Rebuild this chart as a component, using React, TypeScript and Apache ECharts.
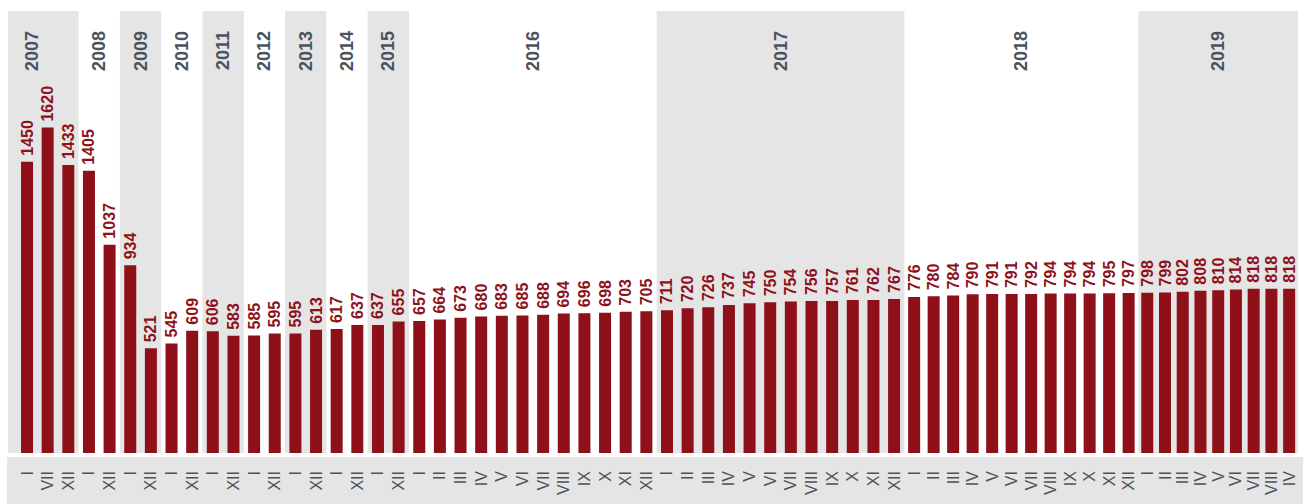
import React, { useEffect, useRef } from 'react';
import * as echarts from 'echarts';

// ---- data ----
const years = ['2007', '2008', '2009', '2010', '2011', '2012', '2013', '2014', '2015', '2016', '2017', '2018', '2019'];

const periods2007 = ['I', 'VII', 'XII'];
const periodsHalf = ['I', 'XII'];
const periodsFull = ['I', 'II', 'III', 'IV', 'V', 'VI', 'VII', 'VIII', 'IX', 'X', 'XI', 'XII'];
const periods2019 = ['I', 'II', 'III', 'IV', 'V', 'VI', 'VII', 'VIII', 'IV'];

const values2007 = [1450, 1620, 1433];
const values2008 = [1405, 1037];
const values2009 = [934, 521];
const values2010 = [545, 609];
const values2011 = [606, 583];
const values2012 = [585, 595];
const values2013 = [595, 613];
const values2014 = [617, 637];
const values2015 = [637, 655];
const values2016 = [657, 664, 673, 680, 683, 685, 688, 694, 696, 698, 703, 705];
const values2017 = [711, 720, 726, 737, 745, 750, 754, 756, 757, 761, 762, 767];
const values2018 = [776, 780, 784, 790, 791, 791, 792, 794, 794, 794, 795, 797];
const values2019 = [798, 799, 802, 808, 810, 814, 818, 818, 818];

const periodsByYear = [
  periods2007, periodsHalf, periodsHalf, periodsHalf, periodsHalf, periodsHalf,
  periodsHalf, periodsHalf, periodsHalf, periodsFull, periodsFull, periodsFull, periods2019,
];
const valuesByYear = [
  values2007, values2008, values2009, values2010, values2011, values2012, values2013,
  values2014, values2015, values2016, values2017, values2018, values2019,
];

// ---- layout / style ----
const BAR = '#8e1119';
const BAND = '#e5e5e5';
const TEXT = '#4a545e';
const FONT = 'Liberation Sans';
const Y_MAX = 2200;
const PLOT_LEFT = 8;
const GRID_TOP = 11;
const GRID_HEIGHT = 442;

const groups = [
  { years: [0, 1, 2, 3, 4, 5, 6, 7, 8, 9, 10], left: 16.7, width: 887.7 },
  { years: [11], left: 904.4, width: 234 },
  { years: [12], left: 1138.4, width: 159.6 },
];

export default function App() {
  const ref = useRef<HTMLDivElement>(null);

  useEffect(() => {
    if (!ref.current) return;
    const chart = echarts.init(ref.current, null, { renderer: 'svg' });

    const grids: any[] = [];
    const xAxes: any[] = [];
    const yAxes: any[] = [];
    const series: any[] = [];

    groups.forEach((g, gi) => {
      const cats: string[] = [];
      const vals: number[] = [];
      g.years.forEach((yi) => {
        cats.push(...periodsByYear[yi]);
        vals.push(...valuesByYear[yi]);
      });
      grids.push({ left: g.left, width: g.width, top: GRID_TOP, height: GRID_HEIGHT, containLabel: false });
      xAxes.push({
        type: 'category',
        gridIndex: gi,
        data: cats,
        boundaryGap: true,
        axisLine: { show: false },
        axisTick: { show: false },
        axisLabel: {
          interval: 0,
          rotate: 90,
          margin: 18,
          color: TEXT,
          fontSize: 16,
          fontFamily: FONT,
        },
      });
      yAxes.push({ type: 'value', gridIndex: gi, min: 0, max: Y_MAX, show: false, splitLine: { show: false } });
      series.push({
        type: 'bar',
        xAxisIndex: gi,
        yAxisIndex: gi,
        data: vals,
        barWidth: 12,
        itemStyle: { color: BAR },
        label: {
          show: true,
          position: 'top',
          rotate: 90,
          align: 'left',
          verticalAlign: 'middle',
          distance: 6,
          color: BAR,
          fontSize: 16,
          fontWeight: 'bold',
          fontFamily: FONT,
        },
      });
    });

    chart.setOption({
      animation: false,
      textStyle: { fontFamily: FONT },
      grid: grids,
      xAxis: xAxes,
      yAxis: yAxes,
      series,
    });

    const top = chart.convertToPixel({ yAxisIndex: 0 }, Y_MAX) as number;
    const bottom = chart.convertToPixel({ yAxisIndex: 0 }, 0) as number;
    const graphics: any[] = [
      { type: 'rect', z: -10, shape: { x: 7, y: bottom + 4, width: 1296, height: 504 - bottom - 4 }, style: { fill: BAND } },
    ];
    groups.forEach((g, gi) => {
      const c0 = chart.convertToPixel({ xAxisIndex: gi }, 0) as number;
      const c1 = chart.convertToPixel({ xAxisIndex: gi }, 1) as number;
      const slot = c1 - c0;
      let offset = 0;
      g.years.forEach((yi) => {
        const n = valuesByYear[yi].length;
        let x0 = (chart.convertToPixel({ xAxisIndex: gi }, offset) as number) - slot / 2;
        const x1 = (chart.convertToPixel({ xAxisIndex: gi }, offset + n - 1) as number) + slot / 2;
        offset += n;
        if (yi === 0) x0 = PLOT_LEFT;
        if (yi % 2 === 0) {
          graphics.push({ type: 'rect', z: -10, shape: { x: x0, y: top, width: x1 - x0, height: bottom - top }, style: { fill: BAND } });
        }
        const cx = yi === 0 ? x0 + (x1 - x0) / 3 : (x0 + x1) / 2;
        graphics.push({
          type: 'text',
          z: 5,
          x: cx,
          y: top + 20,
          rotation: Math.PI / 2,
          style: {
            text: years[yi],
            align: 'right',
            verticalAlign: 'middle',
            fill: TEXT,
            font: `bold 18px "${FONT}"`,
          },
        });
      });
    });
    chart.setOption({ graphic: graphics });

    return () => chart.dispose();
  }, []);

  return <div ref={ref} style={{ position: 'absolute', left: 0, top: 0, width: 1303, height: 504 }} />;
}
